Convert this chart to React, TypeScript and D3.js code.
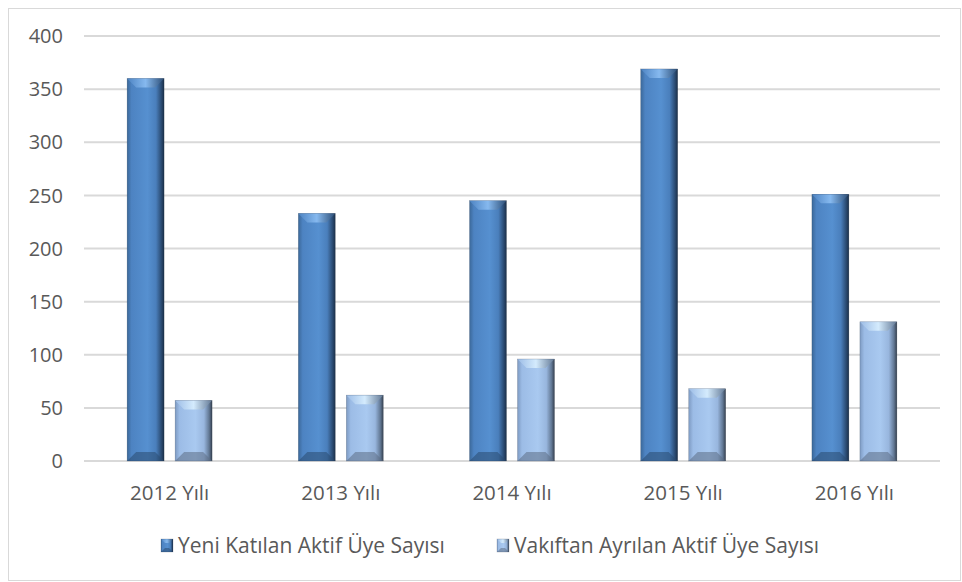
import React from "react";
import * as d3 from "d3";

// chart data
const years = ["2012 Yılı", "2013 Yılı", "2014 Yılı", "2015 Yılı", "2016 Yılı"];
const joined = [360, 233, 245, 369, 251];
const left = [57, 62, 96, 68, 131];
const seriesNames = ["Yeni Katılan Aktif Üye Sayısı", "Vakıftan Ayrılan Aktif Üye Sayısı"];
const yTicks = [0, 50, 100, 150, 200, 250, 300, 350, 400];

const W = 962;
const H = 582;
const margin = { top: 36, right: 22, bottom: 121, left: 84 };
const font = "'Open Sans', 'Noto Sans', sans-serif";

// horizontal shading stops per series (left edge -> right edge)
const shades = [
  ["#3b6899", "#4d83c2", "#5690d0", "#4a7fbc", "#2c4d75", "#1b2f48"],
  ["#7d9ac2", "#9cbce6", "#a9c9f0", "#98b6de", "#627894", "#35404f"],
];
const tops = ["#86b9ef", "#d4ebfd"];
const bottoms = ["#2a4a70", "#5d6d85"];

const BevelBar = ({ x, y, w, h, s, b0 = 9 }: { x: number; y: number; w: number; h: number; s: number; b0?: number }) => {
  const b = Math.min(b0, h / 2, w / 2);
  return (
    <g>
      <rect x={x} y={y} width={w} height={h} fill={`url(#g${s})`} />
      {/* top bevel: V-shaped highlight */}
      <polygon points={`${x},${y} ${x + w},${y} ${x + w - b},${y + b} ${x + b},${y + b}`} fill={`url(#t${s})`} />
      {/* bottom bevel */}
      <polygon points={`${x},${y + h} ${x + b},${y + h - b} ${x + w - b},${y + h - b} ${x + w},${y + h}`} fill={bottoms[s]} opacity={0.55} />
      <rect x={x} y={y} width={w} height={h} fill="none" stroke="#1e2c3d" strokeWidth={0.5} opacity={0.35} />
    </g>
  );
};

export default function App() {
  const x0 = d3.scaleBand().domain(years).range([margin.left, W - margin.right]);
  const y = d3.scaleLinear().domain([0, 400]).range([H - margin.bottom, margin.top]);
  const barW = 37;
  const gap = 11;
  const data = [joined, left];
  const offs = [0, 0.12, 0.55, 0.78, 0.92, 1];

  return (
    <svg width={W} height={H} style={{ position: "absolute", left: 0, top: 0 }}>
      <defs>
        {shades.map((sh, i) => (
          <linearGradient key={i} id={`g${i}`} x1="0" x2="1" y1="0" y2="0">
            {sh.map((c, k) => (
              <stop key={k} offset={offs[k]} stopColor={c} />
            ))}
          </linearGradient>
        ))}
        {tops.map((c, i) => (
          <linearGradient key={i} id={`t${i}`} x1="0" x2="1" y1="0" y2="0">
            <stop offset="0" stopColor={shades[i][1]} />
            <stop offset="0.5" stopColor={c} />
            <stop offset="1" stopColor={shades[i][4]} />
          </linearGradient>
        ))}
      </defs>
      <rect x={8.5} y={8.5} width={952} height={572} fill="#fff" stroke="#d9d9d9" strokeWidth={1} />

      {yTicks.map((t) => (
        <g key={t}>
          <line x1={margin.left} x2={W - margin.right} y1={y(t)} y2={y(t)} stroke="#d9d9d9" strokeWidth={2} />
          <text x={63} y={y(t)} dy="0.36em" textAnchor="end" fontFamily={font} fontSize={20} fill="#595959">
            {t}
          </text>
        </g>
      ))}

      {years.map((yr, i) => {
        const c = (x0(yr) as number) + x0.bandwidth() / 2;
        return (
          <g key={yr}>
            {data.map((ser, s) => {
              const bx = s === 0 ? c - gap / 2 - barW : c + gap / 2;
              return <BevelBar key={s} x={bx} y={y(ser[i])} w={barW} h={y(0) - y(ser[i])} s={s} />;
            })}
            <text x={c} y={500} textAnchor="middle" fontFamily={font} fontSize={20.5} fill="#595959">
              {yr}
            </text>
          </g>
        );
      })}

      {seriesNames.map((n, s) => {
        const lx = s === 0 ? 161 : 497;
        return (
          <g key={n}>
            <BevelBar x={lx} y={539} w={12} h={13} s={s} b0={4} />
            <text x={lx + 17} y={553} fontFamily={font} fontSize={21} fill="#595959">
              {n}
            </text>
          </g>
        );
      })}
    </svg>
  );
}
